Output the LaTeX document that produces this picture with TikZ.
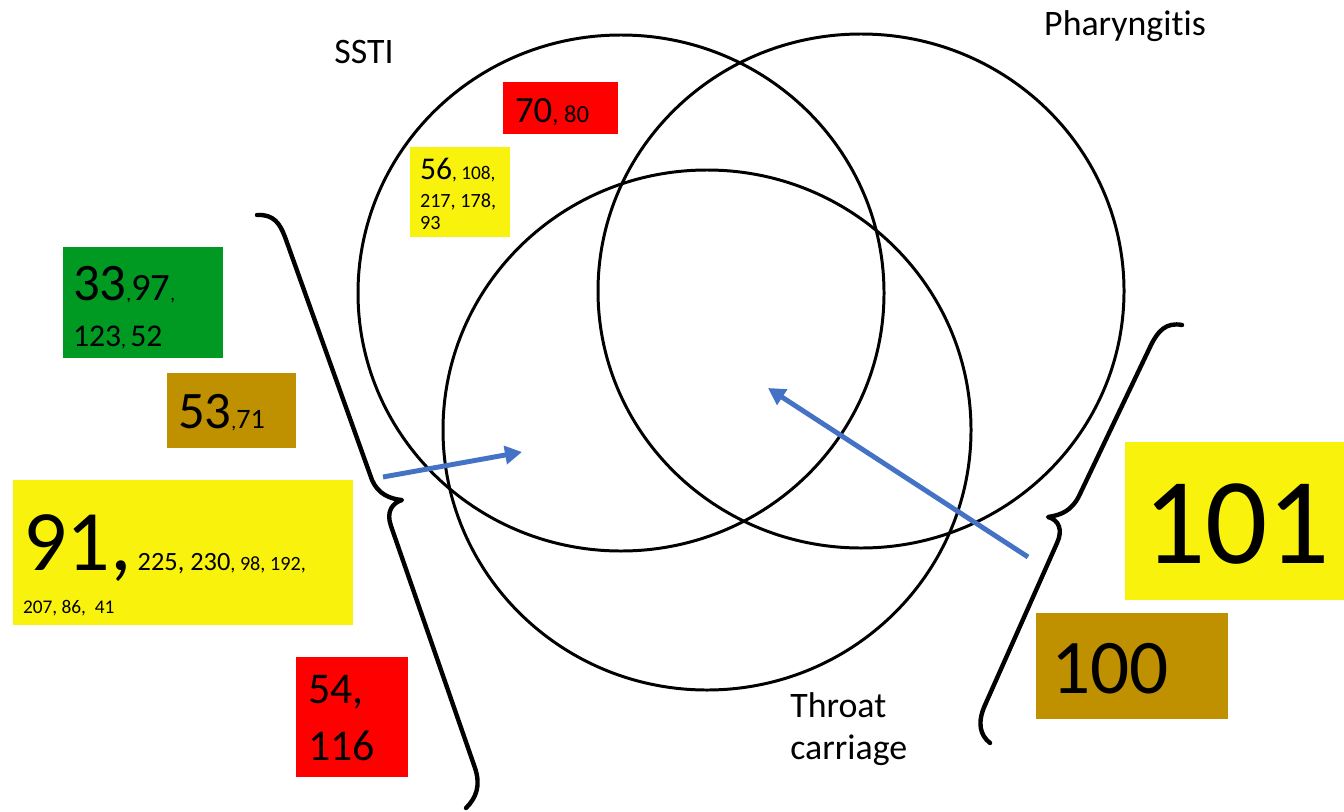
\documentclass[tikz,border=0pt]{standalone}
\usepackage{fontspec}
\setmainfont{Carlito}[Ligatures={CommonOff,ContextualOff}]
\usetikzlibrary{arrows.meta}
\definecolor{cyel}{RGB}{249,242,12}
\definecolor{cred}{RGB}{255,0,0}
\definecolor{cgreen}{RGB}{0,153,34}
\definecolor{cbrown}{RGB}{191,144,0}
\definecolor{cblue}{RGB}{68,114,196}
\newcommand{\fsz}[1]{\fontsize{#1pt}{#1pt}\selectfont}
\begin{document}
\begin{tikzpicture}[x=0.02cm,y=-0.02cm,
  ring/.style={draw=black,line width=1.7pt},
  bracepath/.style={draw=black,line width=2.5pt,line cap=round,line join=round},
  txt/.style={inner sep=0pt,outer sep=0pt,anchor=base west,text=black},
  lbl/.style={inner sep=0pt,text=black,font=\fsz{20.4}},
  barrow/.style={draw=cblue,line width=2.8pt,-{Triangle[length=0.34cm,width=0.36cm]}}]
\useasboundingbox (0,0) rectangle (1344,811);
% circles
\draw[ring] (621,293) ellipse [x radius=263, y radius=258];
\draw[ring] (861,291) ellipse [x radius=263, y radius=257];
\draw[ring] (707,430) ellipse [x radius=264, y radius=260];
% labels
\node[lbl] (ssti) at (364,52) {SSTI};
\node[lbl] (phar) at (1125,26) {Pharyngitis};
\node[lbl,align=left,anchor=north west] (throat) at (790,692) {Throat\\[3.6pt]carriage};
% braces
\draw[bracepath] (257,215) .. controls (274,214) and (280,224) .. (285,237) -- (372,480)
  .. controls (378,494) and (390,499) .. (402,500)
  .. controls (392,503) and (386,512) .. (391,526) -- (475,768)
  .. controls (481,786) and (476,798) .. (466,808);
\draw[bracepath] (1182,325) .. controls (1166,322) and (1158,331) .. (1151,345) -- (1079,496)
  .. controls (1072,510) and (1062,515) .. (1048,517)
  .. controls (1059,520) and (1063,530) .. (1057,543) -- (985,705)
  .. controls (977,723) and (980,735) .. (990,743);
% boxes
\fill[cred] (503,82) rectangle (618,134);
\node[txt] (b70) at (515,122) {\fsz{21}70\fsz{14}, 80};
\fill[cyel] (410,147) rectangle (510,237);
\node[txt] (b56a) at (420,179) {\fsz{18}56\fsz{11}, 108,};
\node[txt] (b56b) at (420,207) {\fsz{11.5}217, 178,};
\node[txt] (b56c) at (420,229) {\fsz{11.5}93};
\fill[cgreen] (63,247) rectangle (223,358);
\node[txt] (b33a) at (73,300) {\fsz{30}33\fsz{11},\fsz{22}97\fsz{11},};
\node[txt] (b33b) at (73,346) {\fsz{18}123\fsz{11}, \fsz{18}52};
\fill[cbrown] (167,373) rectangle (296,448);
\node[txt] (b53) at (178,428) {\fsz{30}53\fsz{11},\fsz{16}71};
\fill[cyel] (13,480) rectangle (353,625);
\node[txt] (b91a) at (23,570) {\fsz{49}91,\fsz{15} 225, 230\fsz{11.5}, 98, 192,};
\node[txt] (b91b) at (23,613) {\fsz{11}207, 86,\ \ 41};
\fill[cred] (296,657) rectangle (408,777);
\node[txt] (b54a) at (308,703) {\fsz{25}54,};
\node[txt] (b54b) at (308,760) {\fsz{25}116};
\fill[cyel] (1125,442) rectangle (1344,600);
\node[txt] (b101) at (1143,563) {\fsz{70}101};
\fill[cbrown] (1036,613) rectangle (1228,719);
\node[txt] (b100) at (1051,693) {\fsz{44}100};
% arrows
\coordinate (a1s) at (383,477);
\coordinate (a1e) at (522,452);
\coordinate (a2s) at (1028,557);
\coordinate (a2e) at (768,388);
\draw[barrow] (a1s) -- (a1e);
\draw[barrow] (a2s) -- (a2e);
\end{tikzpicture}
\end{document}
